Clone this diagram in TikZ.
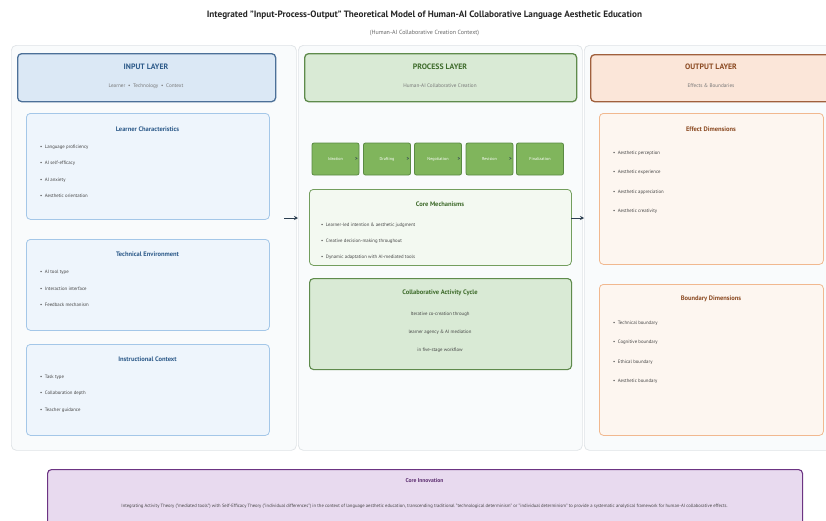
\documentclass[tikz,border=0pt]{standalone}
\usepackage{fontspec}
\setmainfont{PT Sans}
\usetikzlibrary{arrows.meta,positioning}
\definecolor{panelbg}{HTML}{F9FBFC}
\definecolor{panelln}{HTML}{DFE3E6}
\definecolor{inhdbg}{HTML}{DBE8F5}
\definecolor{inhdln}{HTML}{4C7098}
\definecolor{intx}{HTML}{2E5B8A}
\definecolor{inbg}{HTML}{EEF5FC}
\definecolor{inln}{HTML}{A4C7E8}
\definecolor{prhdbg}{HTML}{D9EAD5}
\definecolor{prhdln}{HTML}{5F8B4C}
\definecolor{prtx}{HTML}{3E6B2B}
\definecolor{stagebg}{HTML}{80B55C}
\definecolor{stageln}{HTML}{5A8A43}
\definecolor{mechbg}{HTML}{F3F9F1}
\definecolor{mechln}{HTML}{739E5E}
\definecolor{outhdbg}{HTML}{FBE6D9}
\definecolor{outhdln}{HTML}{A0603D}
\definecolor{outtx}{HTML}{8B4A22}
\definecolor{outbg}{HTML}{FDF6F0}
\definecolor{outln}{HTML}{F1B88F}
\definecolor{innobg}{HTML}{E8DAEF}
\definecolor{innoln}{HTML}{6C3483}
\definecolor{innotx}{HTML}{5B2C6F}
\definecolor{itemtx}{HTML}{444444}
\definecolor{subtx}{HTML}{777777}
\definecolor{flowc}{HTML}{2C3E50}
\tikzset{
  panel/.style={rectangle,rounded corners=5pt,fill=panelbg,draw=panelln,
    line width=0.7pt,anchor=north west,inner sep=0pt},
  layerhd/.style={rectangle,rounded corners=4pt,line width=1.3pt,
    anchor=north west,inner sep=0pt},
  card/.style={rectangle,rounded corners=4pt,line width=0.8pt,
    anchor=north west,inner sep=0pt},
  hdtitle/.style={font=\fontsize{7.8}{9}\selectfont\bfseries},
  hdsub/.style={font=\fontsize{5.2}{6}\selectfont,text=subtx},
  cardtitle/.style={font=\fontsize{6.5}{7.5}\selectfont\bfseries},
  item/.style={anchor=west,inner sep=0pt,font=\fontsize{4.8}{5.5}\selectfont,
    text=itemtx},
  % the five-stage workflow
  stagebox/.style={rectangle,rounded corners=2pt,fill=stagebg,draw=stageln,
    line width=0.8pt,minimum width=47pt,minimum height=32pt,inner sep=0pt,
    font=\fontsize{4.2}{5}\selectfont,text=white},
  stagegt/.style={inner sep=0pt,font=\fontsize{5}{6}\selectfont\bfseries,
    text=flowc,anchor=east},
  flow/.style={-{Stealth[length=4pt,width=4pt]},line width=0.9pt,draw=flowc}
}
\begin{document}
\begin{tikzpicture}[x=1pt,y=-1pt]
  \useasboundingbox[fill=white] (0,0) rectangle (826,520);
  \node[font=\fontsize{9.2}{10}\selectfont\bfseries,text=black!85] (title) at (424.5,15)
    {Integrated "Input-Process-Output" Theoretical Model of Human-AI Collaborative Language Aesthetic Education};
  \node[font=\fontsize{6}{7}\selectfont,text=black!60] (subtitle) at (424.5,33) {(Human-AI Collaborative Creation Context)};
  % three column panels
  \node[panel,minimum width=285pt,minimum height=405pt] (inpanel) at (11,45) {};
  \node[panel,minimum width=284pt,minimum height=405pt] (procpanel) at (298,45) {};
  \node[panel,minimum width=290pt,minimum height=405pt] (outpanel) at (584,45) {};
  % input layer
  \node[layerhd,fill=inhdbg,draw=inhdln,minimum width=258pt,minimum height=48pt] (inhd) at (17,53) {};
  \node[hdtitle,text=intx] (inhdt) at (146,67) {INPUT LAYER};
  \node[hdsub] (inhds) at (146,86) {Learner \ • \ Technology \ • \ Context};
  \node[card,fill=inbg,draw=inln,minimum width=243pt,minimum height=106pt] (learner) at (26,113) {};
  \node[cardtitle,text=intx] (learnert) at (147.5,129) {Learner Characteristics};
  \foreach \t [count=\i] in {Language proficiency,AI self-efficacy,AI anxiety,Aesthetic orientation}
    \node[item] (lc\i) at (40,147+16.4*\i-16.4) {•\ \ \t};
  \node[card,fill=inbg,draw=inln,minimum width=243pt,minimum height=91pt] (techenv) at (26,239) {};
  \node[cardtitle,text=intx] (techenvt) at (147.5,254) {Technical Environment};
  \foreach \t [count=\i] in {AI tool type,Interaction interface,Feedback mechanism}
    \node[item] (te\i) at (40,272+16.5*\i-16.5) {•\ \ \t};
  \node[card,fill=inbg,draw=inln,minimum width=243pt,minimum height=91pt] (instr) at (26,344) {};
  \node[cardtitle,text=intx] (instrt) at (147.5,359) {Instructional Context};
  \foreach \t [count=\i] in {Task type,Collaboration depth,Teacher guidance}
    \node[item] (ic\i) at (40,377+16.5*\i-16.5) {•\ \ \t};
  % process layer
  \node[layerhd,fill=prhdbg,draw=prhdln,minimum width=272pt,minimum height=48pt] (prhd) at (304,53) {};
  \node[hdtitle,text=prtx] (prhdt) at (440,67) {PROCESS LAYER};
  \node[hdsub] (prhds) at (440,86) {Human-AI Collaborative Creation};
  \foreach \t/\x [count=\i] in {Ideation/335.5,Drafting/387,Negotiation/438,Revision/489.5,Finalization/540}
    \node[stagebox] (st\i) at (\x,159) {\t};
  \foreach \i in {1,...,4}
    \node[stagegt] (gt\i) at ([xshift=-1.5pt]st\i.east) {>};
  \node[card,fill=mechbg,draw=mechln,minimum width=262pt,minimum height=76pt] (mech) at (309,189) {};
  \node[cardtitle,text=prtx] (mecht) at (440,204) {Core Mechanisms};
  \foreach \t [count=\i] in {Learner-led intention \& aesthetic judgment,Creative decision-making throughout,Dynamic adaptation with AI-mediated tools}
    \node[item] (cm\i) at (321,225+16*\i-16) {•\ \ \t};
  \node[card,fill=prhdbg,draw=prhdln,line width=1.1pt,minimum width=262pt,minimum height=91pt] (cycle) at (309,278) {};
  \node[cardtitle,text=prtx] (cyclet) at (440,293) {Collaborative Activity Cycle};
  \foreach \t [count=\i] in {Iterative co-creation through,learner agency \& AI mediation,in five-stage workflow}
    \node[item,anchor=center] (cy\i) at (440,314+18*\i-18) {\t};
  % output layer
  \node[layerhd,fill=outhdbg,draw=outhdln,minimum width=270pt,minimum height=47pt] (outhd) at (590,54) {};
  \node[hdtitle,text=outtx] (outhdt) at (711,67) {OUTPUT LAYER};
  \node[hdsub] (outhds) at (711,86) {Effects \& Boundaries};
  \node[card,fill=outbg,draw=outln,minimum width=224pt,minimum height=151pt] (effect) at (599,113) {};
  \node[cardtitle,text=outtx] (effectt) at (711,129) {Effect Dimensions};
  \foreach \t [count=\i] in {Aesthetic perception,Aesthetic experience,Aesthetic appreciation,Aesthetic creativity}
    \node[item] (ed\i) at (613,153+19.4*\i-19.4) {•\ \ \t};
  \node[card,fill=outbg,draw=outln,minimum width=224pt,minimum height=151pt] (bound) at (599,284) {};
  \node[cardtitle,text=outtx] (boundt) at (711,299) {Boundary Dimensions};
  \foreach \t [count=\i] in {Technical boundary,Cognitive boundary,Ethical boundary,Aesthetic boundary}
    \node[item] (bd\i) at (613,323+19.4*\i-19.4) {•\ \ \t};
  % flow between layers
  \coordinate (inout) at (284,218);
  \coordinate (mechout) at (571,218);
  \draw[flow] (inout) -- (procpanel.west |- inout);
  \draw[flow] (mechout) -- (outpanel.west |- mechout);
  % core innovation
  \node[card,fill=innobg,draw=innoln,line width=1.1pt,minimum width=755pt,minimum height=70pt] (innov) at (47,469) {};
  \node[cardtitle,font=\fontsize{5.6}{6.5}\selectfont\bfseries,text=innotx] (innovt) at (424.5,481) {Core Innovation};
  \node[item,anchor=center,font=\fontsize{4.65}{5.5}\selectfont] (innovb) at (424.5,506)
    {Integrating Activity Theory ("mediated tools") with Self-Efficacy Theory ("individual differences") in the context of language aesthetic education, transcending traditional "technological determinism" or "individual determinism" to provide a systematic analytical framework for human-AI collaborative effects.};
\end{tikzpicture}
\end{document}
